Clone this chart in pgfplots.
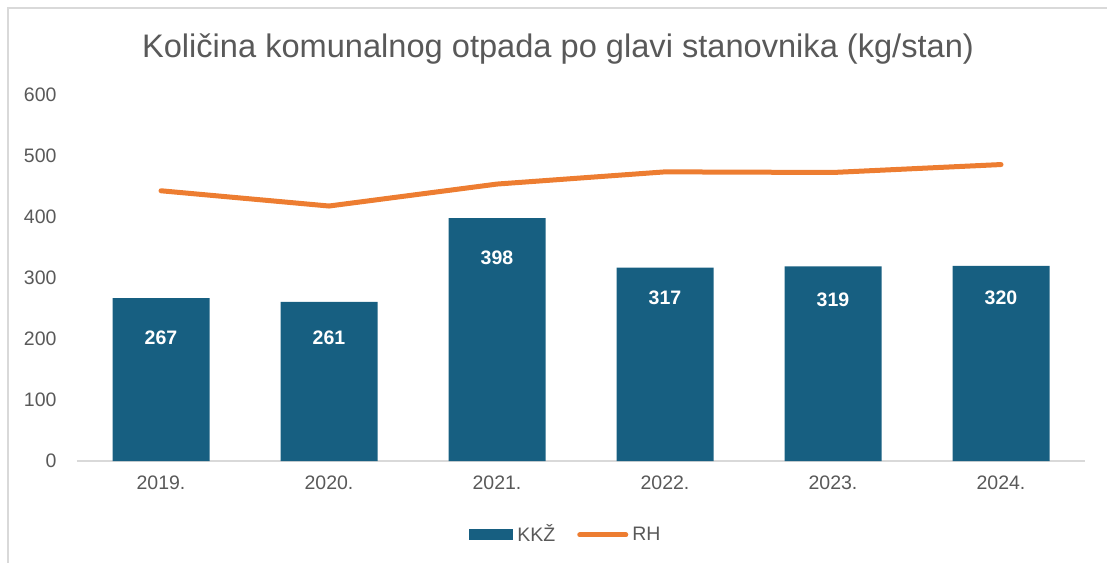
\documentclass[border=0pt]{standalone}
\usepackage{fontspec}
\setmainfont{Liberation Sans}
\usepackage{pgfplots}
\usepackage{pgfplotstable}
\pgfplotsset{compat=1.18}
\definecolor{barblue}{HTML}{175F81}
\definecolor{lineorange}{HTML}{ED7D31}
\definecolor{txtgray}{HTML}{595959}
\definecolor{framegray}{HTML}{D9D9D9}
\pgfplotstableread{
x y off
0 267 20.0
1 261 18.2
2 398 19.85
3 317 14.85
4 319 16.85
5 320 16.0
}\kkz
\pgfplotstableread{
x y
0 443
1 418
2 454
3 474
4 473
5 486
}\rh
\begin{document}
\begin{tikzpicture}[x=1pt,y=1pt]
\useasboundingbox (0,0) rectangle (553.5,281);
\draw[framegray, line width=0.9pt] (4,-5) -- (4,277) -- (560,277);
\node[txtgray, font=\fontsize{16.3}{19}\selectfont] at (279,256.5) {Količina komunalnog otpada po glavi stanovnika (kg/stan)};
\begin{axis}[at={(38.5pt,50.5pt)}, anchor=south west, scale only axis,
  width=504pt, height=183pt,
  xmin=-0.5, xmax=5.5, ymin=0, ymax=600,
  xtick={0,...,5}, xticklabels={2019.,2020.,2021.,2022.,2023.,2024.},
  ytick={0,100,...,600},
  axis line style={draw=none}, tick style={draw=none},
  extra y ticks={0}, extra y tick labels={},
  extra y tick style={grid=major, major grid style={framegray, line width=0.8pt}},
  yticklabel style={txtgray, font=\fontsize{9.75}{11}\selectfont, xshift=-6.7pt},
  xticklabel style={txtgray, font=\fontsize{9.75}{11}\selectfont, yshift=-3.7pt},
  /pgf/number format/assume math mode=true,
  legend style={at={(0.486,-0.202)}, anchor=center, draw=none, fill=none,
    legend columns=2, font=\fontsize{9.75}{11}\selectfont, text=txtgray,
    /tikz/every even column/.append style={column sep=9pt}},
  clip=false,
]
\addplot[ybar, bar width=48.5pt, fill=barblue, draw=none,
  visualization depends on={\thisrow{off} \as \myoff},
  nodes near coords,
  nodes near coords style={white, font=\bfseries\fontsize{9.75}{11}\selectfont, anchor=center, yshift=-\myoff pt},
  legend image code/.code={\fill[barblue] (0pt,-2.75pt) rectangle (22pt,2.75pt);}]
  table[x=x, y=y] {\kkz};
\addlegendentry{KKŽ}
\addplot[lineorange, line width=2.5pt, line cap=round, line join=round, mark=none,
  legend image code/.code={\draw[lineorange, line width=2.5pt, line cap=round] (0pt,0pt) -- (23pt,0pt);}]
  table[x=x, y=y] {\rh};
\addlegendentry{RH}
\end{axis}
\end{tikzpicture}
\end{document}
